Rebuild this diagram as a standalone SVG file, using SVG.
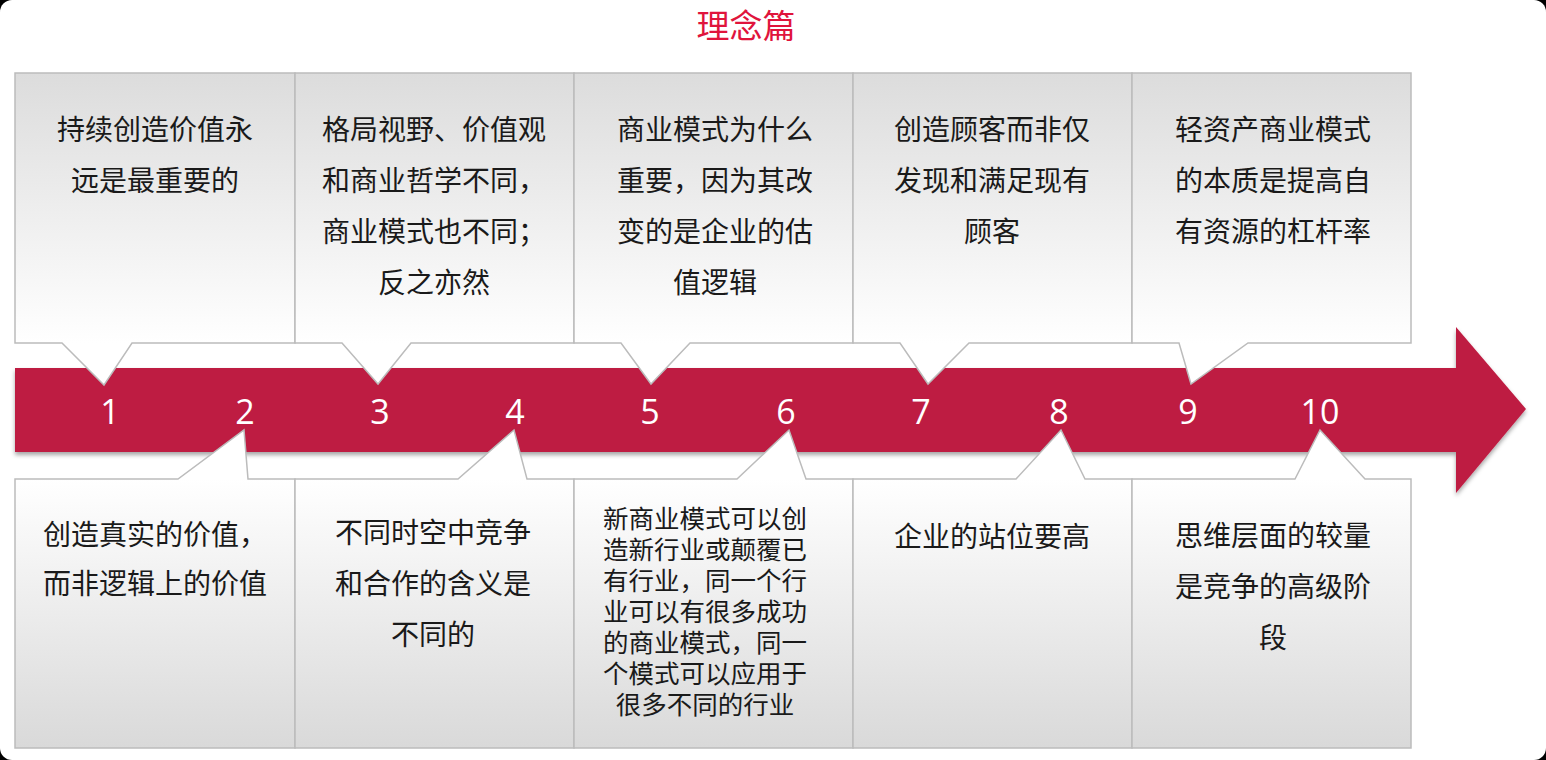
<svg xmlns="http://www.w3.org/2000/svg" width="1546" height="760" viewBox="0 0 1546 760">
<style>
.box{stroke:#bcbcbc;stroke-width:1.5}
.top{fill:url(#gTop)}
.bot{fill:url(#gBot)}
.t{font-family:"Noto Sans CJK SC","Microsoft YaHei",sans-serif;font-size:28px;fill:#1a1a1a;text-anchor:middle}
.ts{font-size:25.5px}
.n{font-family:"Open Sans","DejaVu Sans",sans-serif;font-size:34px;fill:#ffffff;text-anchor:middle}
.title{font-family:"Noto Sans CJK SC",sans-serif;font-size:33px;fill:#e0143c;text-anchor:middle}
</style>
<defs>
<linearGradient id="gTop" gradientUnits="userSpaceOnUse" x1="0" y1="73" x2="0" y2="343">
<stop offset="0" stop-color="#dcdcdc"/><stop offset="1" stop-color="#ffffff"/>
</linearGradient>
<linearGradient id="gBot" gradientUnits="userSpaceOnUse" x1="0" y1="479" x2="0" y2="748">
<stop offset="0" stop-color="#ffffff"/><stop offset="1" stop-color="#d9d9d9"/>
</linearGradient>
<filter id="sh" x="-5%" y="-10%" width="110%" height="130%">
<feDropShadow dx="0" dy="3" stdDeviation="2" flood-color="#000" flood-opacity="0.35"/>
</filter>
</defs>
<rect x="0" y="0" width="1546" height="760" fill="#000"/>
<rect x="0" y="0" width="1546" height="760" rx="12" fill="#fff"/>
<text class="title" x="746" y="38">理念篇</text>

<g id="arrow">
<path d="M15,368 H1456 V327 L1526,409 L1456,493 V452 H15 Z" fill="#be1e42" filter="url(#sh)"/>
</g>

<g id="connectors"/>

<g id="top1">
<path class="box top" d="M15,73 H295 V343 H132 L104,385 L62,343 H15 Z"/>
<text class="t" x="155" y="140"><tspan x="155">持续创造价值永</tspan><tspan x="155" dy="51">远是最重要的</tspan></text>
</g>
<g id="top2">
<path class="box top" d="M295,73 H574 V343 H411 L378,384 L342,343 H295 Z"/>
<text class="t" x="434" y="140"><tspan x="434">格局视野、价值观</tspan><tspan x="434" dy="51">和商业哲学不同，</tspan><tspan x="434" dy="51">商业模式也不同；</tspan><tspan x="434" dy="51">反之亦然</tspan></text>
</g>
<g id="top3">
<path class="box top" d="M574,73 H853 V343 H690 L651,384 L621,343 H574 Z"/>
<text class="t" x="715" y="140"><tspan x="715">商业模式为什么</tspan><tspan x="715" dy="51">重要，因为其改</tspan><tspan x="715" dy="51">变的是企业的估</tspan><tspan x="715" dy="51">值逻辑</tspan></text>
</g>
<g id="top4">
<path class="box top" d="M853,73 H1132 V343 H969 L928,384 L900,343 H853 Z"/>
<text class="t" x="992" y="140"><tspan x="992">创造顾客而非仅</tspan><tspan x="992" dy="51">发现和满足现有</tspan><tspan x="992" dy="51">顾客</tspan></text>
</g>
<g id="top5">
<path class="box top" d="M1132,73 H1411 V343 H1248 L1191,384 L1179,343 H1132 Z"/>
<text class="t" x="1273" y="140"><tspan x="1273">轻资产商业模式</tspan><tspan x="1273" dy="51">的本质是提高自</tspan><tspan x="1273" dy="51">有资源的杠杆率</tspan></text>
</g>

<g id="bot1">
<path class="box bot" d="M15,479 H178 L244,430 L248,479 H295 V748 H15 Z"/>
<text class="t" x="155" y="545"><tspan x="155">创造真实的价值，</tspan><tspan x="155" dy="49">而非逻辑上的价值</tspan></text>
</g>
<g id="bot2">
<path class="box bot" d="M295,479 H458 L514,430 L527,479 H574 V748 H295 Z"/>
<text class="t" x="433" y="543"><tspan x="433">不同时空中竞争</tspan><tspan x="433" dy="51">和合作的含义是</tspan><tspan x="433" dy="51">不同的</tspan></text>
</g>
<g id="bot3">
<path class="box bot" d="M574,479 H737 L789,430 L806,479 H853 V748 H574 Z"/>
<text class="t ts" x="705" y="528"><tspan x="705">新商业模式可以创</tspan><tspan x="705" dy="31">造新行业或颠覆已</tspan><tspan x="705" dy="31">有行业，同一个行</tspan><tspan x="705" dy="31">业可以有很多成功</tspan><tspan x="705" dy="31">的商业模式，同一</tspan><tspan x="705" dy="31">个模式可以应用于</tspan><tspan x="705" dy="31">很多不同的行业</tspan></text>
</g>
<g id="bot4">
<path class="box bot" d="M853,479 H1016 L1061,430 L1085,479 H1132 V748 H853 Z"/>
<text class="t" x="992" y="547">企业的站位要高</text>
</g>
<g id="bot5">
<path class="box bot" d="M1132,479 H1295 L1320,430 L1365,479 H1411 V748 H1132 Z"/>
<text class="t" x="1273" y="546"><tspan x="1273">思维层面的较量</tspan><tspan x="1273" dy="51">是竞争的高级阶</tspan><tspan x="1273" dy="51">段</tspan></text>
</g>

<g id="numbers">
<text class="n" x="110" y="424">1</text>
<text class="n" x="245" y="424">2</text>
<text class="n" x="380" y="424">3</text>
<text class="n" x="515" y="424">4</text>
<text class="n" x="650" y="424">5</text>
<text class="n" x="786" y="424">6</text>
<text class="n" x="921" y="424">7</text>
<text class="n" x="1059" y="424">8</text>
<text class="n" x="1188" y="424">9</text>
<text class="n" x="1320" y="424">10</text>
</g>
</svg>
